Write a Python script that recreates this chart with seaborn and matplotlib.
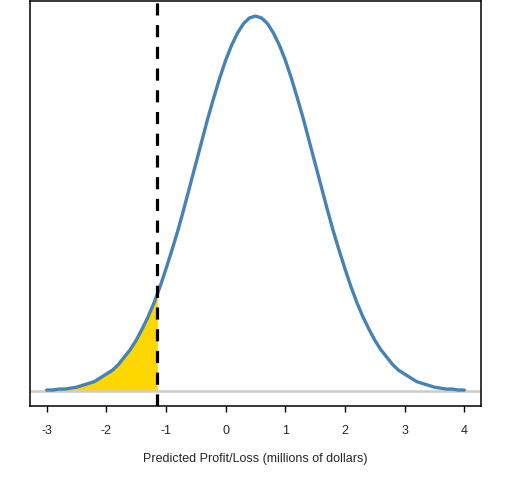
import numpy as np
import pandas as pd
import matplotlib
matplotlib.use("Agg")
import matplotlib.pyplot as plt
import seaborn as sns

# Density of predicted profit/loss at steps of 0.1
profit = [round(-3.0 + 0.1 * i, 1) for i in range(71)]
density = [
    0.001, 0.001, 0.002, 0.002, 0.003, 0.004, 0.006, 0.008, 0.010, 0.014,
    0.018, 0.022, 0.028, 0.036, 0.044, 0.054, 0.066, 0.079, 0.094, 0.111,
    0.130, 0.150, 0.171, 0.194, 0.218, 0.242, 0.266, 0.290, 0.312, 0.333,
    0.352, 0.368, 0.381, 0.391, 0.397, 0.399, 0.397, 0.391, 0.381, 0.368,
    0.352, 0.333, 0.312, 0.290, 0.266, 0.242, 0.218, 0.194, 0.171, 0.150,
    0.130, 0.111, 0.094, 0.079, 0.066, 0.054, 0.044, 0.036, 0.028, 0.022,
    0.018, 0.014, 0.010, 0.008, 0.006, 0.004, 0.003, 0.002, 0.002, 0.001,
    0.001,
]
var_x = -1.145        # 5% value at risk
var_density = 0.103

df = pd.DataFrame({"profit": profit, "density": density})
tail = df[df["profit"] < var_x]
tail_x = list(tail["profit"]) + [var_x]
tail_y = list(tail["density"]) + [var_density]

sns.set_style("white")
plt.rcParams["font.family"] = ["Liberation Sans", "DejaVu Sans"]
plt.rcParams["axes.unicode_minus"] = False

fig = plt.figure(figsize=(5.12, 4.8), dpi=100)
ax = fig.add_axes([30 / 512, 1 - 406 / 480, 451 / 512, 405 / 480])

ax.fill_between(tail_x, 0, tail_y, color="#FFD700", linewidth=0)
ax.axhline(0, color="#CCCCCC", linewidth=1.8, zorder=2)
sns.lineplot(data=df, x="profit", y="density", ax=ax, color="#4682B4",
             linewidth=2.4, zorder=3)
ax.axvline(var_x, color="black", linewidth=2.3, linestyle=(0, (3.8, 3.0)), zorder=4)

ax.set_xlim(-3.28, 4.28)
ax.set_ylim(-0.016, 0.415)
ax.set_xticks([-3, -2, -1, 0, 1, 2, 3, 4])
ax.set_yticks([])
ax.set_ylabel("")
ax.set_xlabel("Predicted Profit/Loss (millions of dollars)", fontsize=9, labelpad=12)
ax.tick_params(axis="x", direction="out", length=4.5, width=1, color="black",
               labelsize=9, pad=9, bottom=True)
for s in ax.spines.values():
    s.set_color("black")
    s.set_linewidth(1.1)

fig.savefig("out.png", dpi=100)
